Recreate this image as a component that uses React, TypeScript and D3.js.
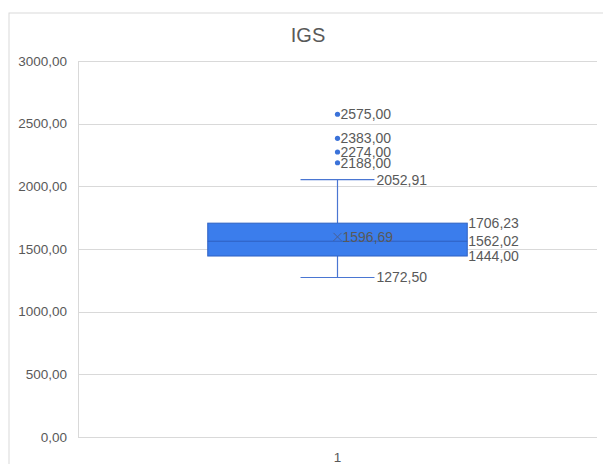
import React from "react";
import * as d3 from "d3";

const categories = ["1"];
const outliers = [2188, 2274, 2383, 2575];
const whiskerLow = [1272.5];
const q1 = [1444.0];
const median = [1562.02];
const q3 = [1706.23];
const whiskerHigh = [2052.91];
const means = [1596.69];
const yTicks = [0, 500, 1000, 1500, 2000, 2500, 3000];
const title = "IGS";

const W = 603;
const H = 464;
const FONT = "'Liberation Sans', Arial, sans-serif";
const TEXT = "#595959";
const GRID = "#d9d9d9";

const locale = d3.formatLocale({ decimal: ",", thousands: "", grouping: [3], currency: ["", ""] });
const fmt = locale.format(".2f");

export default function App() {
  const y = d3.scaleLinear().domain([0, 3000]).range([437, 61]);
  const x = d3.scaleBand().domain(categories).range([78, 597]).padding(0);
  const bw = x.bandwidth();
  const boxW = bw * 0.5;
  const capW = boxW * 0.285;

  return (
    <svg width={W} height={H} style={{ position: "absolute", left: 0, top: 0, background: "#fff" }} fontFamily={FONT}>
      <rect x={9} y={13} width={W} height={H} fill="#fff" stroke={GRID} strokeWidth={1} />
      <text x={308} y={41.5} textAnchor="middle" fontSize={20} fill={TEXT}>{title}</text>
      {yTicks.map((t) => (
        <g key={t}>
          <line x1={78} x2={597} y1={Math.round(y(t)) + 0.5} y2={Math.round(y(t)) + 0.5} stroke={GRID} strokeWidth={1} />
          <text x={67} y={y(t)} dy="0.35em" textAnchor="end" fontSize={13.5} fill={TEXT}>{fmt(t)}</text>
        </g>
      ))}
      <line x1={78.5} x2={78.5} y1={y(3000)} y2={y(0)} stroke={GRID} strokeWidth={1} />
      {categories.map((c, i) => {
        const cx = (x(c) as number) + bw / 2;
        const bl = cx - boxW / 2;
        const br = cx + boxW / 2;
        const whisk = "#4a76d2";
        return (
          <g key={c}>
            <line x1={cx} x2={cx} y1={y(whiskerHigh[i])} y2={y(q3[i])} stroke={whisk} strokeWidth={1.2} />
            <line x1={cx} x2={cx} y1={y(q1[i])} y2={y(whiskerLow[i])} stroke={whisk} strokeWidth={1.2} />
            <line x1={cx - capW / 2} x2={cx + capW / 2} y1={y(whiskerHigh[i])} y2={y(whiskerHigh[i])} stroke={whisk} strokeWidth={1.2} />
            <line x1={cx - capW / 2} x2={cx + capW / 2} y1={y(whiskerLow[i])} y2={y(whiskerLow[i])} stroke={whisk} strokeWidth={1.2} />
            <rect x={bl} y={y(q3[i])} width={boxW} height={y(q1[i]) - y(q3[i])} fill="#3b7dec" stroke="#2f62c4" strokeWidth={1} />
            <line x1={bl} x2={br} y1={y(median[i])} y2={y(median[i])} stroke="#2f5fbf" strokeWidth={1} />
            <g stroke="#4a5f92" strokeWidth={1}>
              <line x1={cx - 4} x2={cx + 4} y1={y(means[i]) - 4} y2={y(means[i]) + 4} />
              <line x1={cx - 4} x2={cx + 4} y1={y(means[i]) + 4} y2={y(means[i]) - 4} />
            </g>
            <text x={cx + 5} y={y(means[i])} dy="0.35em" fontSize={14} fill={TEXT}>{fmt(means[i])}</text>
            {outliers.map((o) => (
              <g key={o}>
                <circle cx={cx} cy={y(o)} r={2.6} fill="#3b72d9" />
                <text x={cx + 3} y={y(o)} dy="0.35em" fontSize={14} fill={TEXT}>{fmt(o)}</text>
              </g>
            ))}
            <text x={cx + capW / 2 + 2} y={y(whiskerHigh[i])} dy="0.35em" fontSize={14} fill={TEXT}>{fmt(whiskerHigh[i])}</text>
            <text x={cx + capW / 2 + 2} y={y(whiskerLow[i])} dy="0.35em" fontSize={14} fill={TEXT}>{fmt(whiskerLow[i])}</text>
            <text x={br + 1} y={y(q3[i])} dy="0.35em" fontSize={14} fill={TEXT}>{fmt(q3[i])}</text>
            <text x={br + 1} y={y(median[i])} dy="0.35em" fontSize={14} fill={TEXT}>{fmt(median[i])}</text>
            <text x={br + 1} y={y(q1[i])} dy="0.35em" fontSize={14} fill={TEXT}>{fmt(q1[i])}</text>
            <text x={cx} y={461.5} textAnchor="middle" fontSize={13.5} fill={TEXT}>{c}</text>
          </g>
        );
      })}
    </svg>
  );
}
